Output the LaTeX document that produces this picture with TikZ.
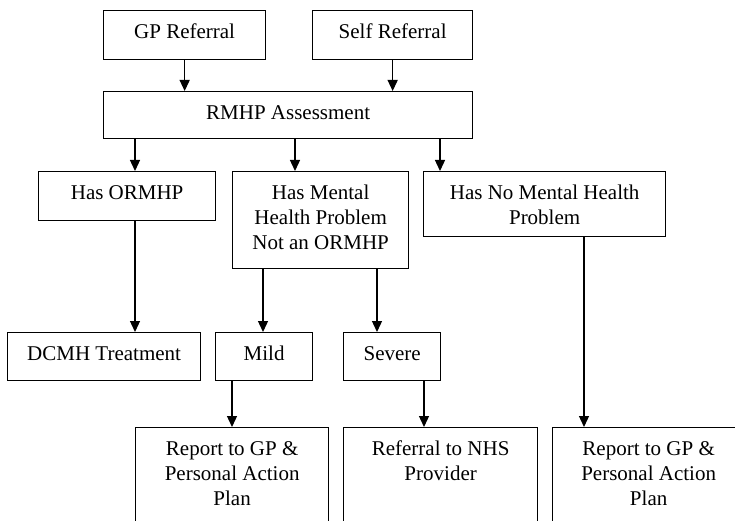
\documentclass[tikz,border=0pt]{standalone}
\usepackage{fontspec}
\setmainfont{Liberation Serif}
\usetikzlibrary{arrows.meta}
\newcommand{\bt}[3]{\parbox[c][#2pt][t]{#1pt}{\centering\rule{0pt}{28pt}#3}}
\tikzset{
  box/.style={draw, line width=1.3pt, inner sep=0pt, anchor=north west,
    font=\fontsize{21}{25}\selectfont},
  arr/.style={-{Triangle[width=10pt,length=11pt]}, line width=1.3pt}
}
\begin{document}
\begin{tikzpicture}[x=1pt,y=-1pt]
\useasboundingbox (0,0) rectangle (735,521);
\clip (0,0) rectangle (735,521);
\fill[white] (0,0) rectangle (735,521);
% boxes
\node[box] (gp)    at (103,10)  {\bt{162}{49}{GP Referral}};
\node[box] (self)  at (312,10)  {\bt{160}{49}{Self Referral}};
\node[box] (rmhp)  at (103,91)  {\bt{369}{47}{RMHP Assessment}};
\node[box] (orm)   at (38,171)  {\bt{177}{49}{Has ORMHP}};
\node[box] (hmp)   at (232,171) {\bt{176}{97}{Has Mental\\Health Problem\\Not an ORMHP}};
\node[box] (nomh)  at (423,171) {\bt{242}{65}{Has No Mental Health\\Problem}};
\node[box] (dcmh)  at (7,332)   {\bt{193}{48}{DCMH Treatment}};
\node[box] (mild)  at (215,332) {\bt{97}{48}{Mild}};
\node[box] (sev)   at (343,332) {\bt{97}{48}{Severe}};
\node[box] (rep1)  at (135,427) {\bt{193}{120}{Report to GP \&\\Personal Action\\Plan}};
\node[box] (nhs)   at (343,427) {\bt{194}{120}{Referral to NHS\\Provider}};
\node[box] (rep2)  at (552,427) {\bt{192}{120}{Report to GP \&\\Personal Action\\Plan}};
% arrow columns
\coordinate (ca) at (135,0);
\coordinate (cb) at (295,0);
\coordinate (cc) at (440,0);
\coordinate (cd) at (263,0);
\coordinate (ce) at (377,0);
\coordinate (cf) at (232,0);
\coordinate (cg) at (424,0);
\coordinate (ch) at (584,0);
% connectors
\draw[arr] (gp.south) -- (gp.south |- rmhp.north);
\draw[arr] (self.south) -- (self.south |- rmhp.north);
\draw[arr] (ca |- rmhp.south) -- (ca |- orm.north);
\draw[arr] (cb |- rmhp.south) -- (cb |- hmp.north);
\draw[arr] (cc |- rmhp.south) -- (cc |- nomh.north);
\draw[arr] (ca |- orm.south) -- (ca |- dcmh.north);
\draw[arr] (cd |- hmp.south) -- (cd |- mild.north);
\draw[arr] (ce |- hmp.south) -- (ce |- sev.north);
\draw[arr] (cf |- mild.south) -- (cf |- rep1.north);
\draw[arr] (cg |- sev.south) -- (cg |- nhs.north);
\draw[arr] (ch |- nomh.south) -- (ch |- rep2.north);
\end{tikzpicture}
\end{document}
